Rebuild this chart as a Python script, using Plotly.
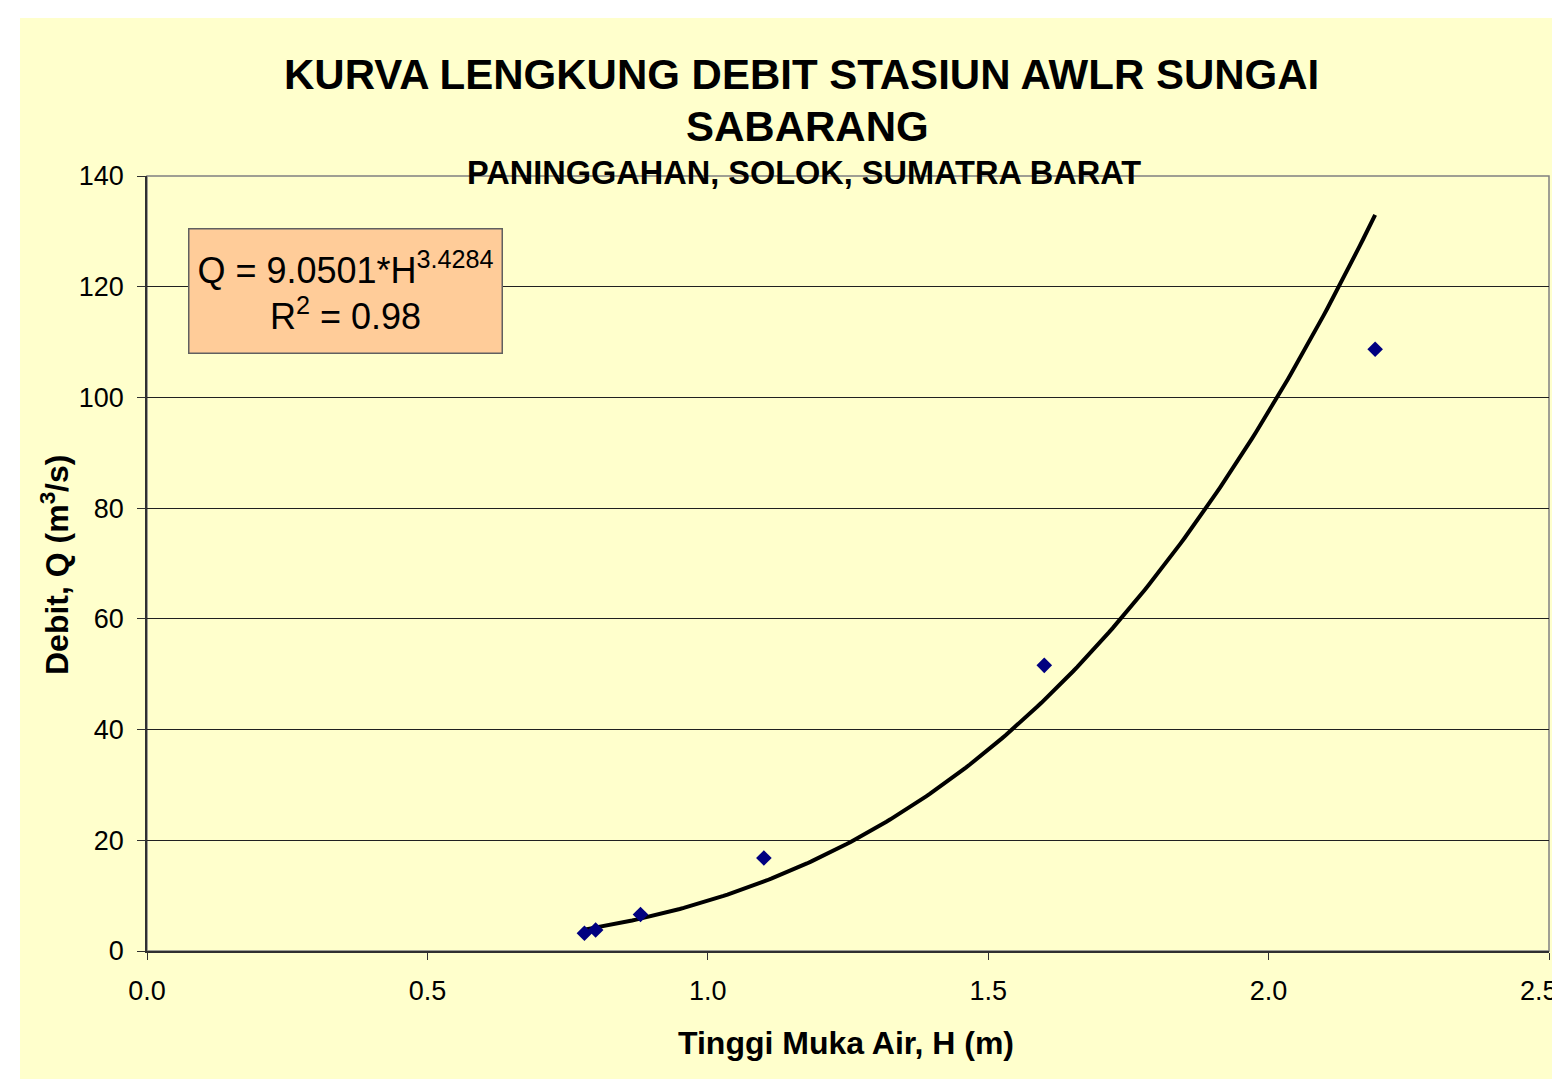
import numpy as np
import plotly.graph_objects as go

# ---- data ----
tinggi_h = [0.78, 0.80, 0.88, 1.10, 1.60, 2.19]          # H (m)
debit_q = [3.2, 3.8, 6.6, 16.8, 51.6, 108.7]            # Q (m3/s)
coef_a = 9.0501                                         # trendline Q = a*H^b
coef_b = 3.4284
r_squared = 0.98
x_ticks = [0.0, 0.5, 1.0, 1.5, 2.0, 2.5]
y_ticks = [0, 20, 40, 60, 80, 100, 120, 140]

OFF = 8                       # default body margin of the html page
W, H = 1560 - OFF, 1079 - OFF
# plot area in reference (page) pixels
L, R, T, B = 147, 1549, 176, 951
FONT = "Arial, Liberation Sans, sans-serif"


def px(x):
    return (x - L) / (R - L)


def py(y):
    return (B - y) / (B - T)


h_fit = np.linspace(min(tinggi_h), max(tinggi_h), 200)
q_fit = coef_a * h_fit ** coef_b

fig = go.Figure()
fig.add_trace(go.Scatter(
    x=h_fit, y=q_fit, mode="lines",
    line=dict(color="black", width=4), hoverinfo="skip", showlegend=False))
fig.add_trace(go.Scatter(
    x=tinggi_h, y=debit_q, mode="markers",
    marker=dict(symbol="diamond", size=12, color="#000080"),
    showlegend=False))

shapes = [
    dict(type="rect", xref="paper", yref="paper", x0=px(20), x1=px(1575),
         y0=py(1090), y1=py(18), fillcolor="#FFFFCC", line=dict(width=0),
         layer="below"),
    dict(type="rect", xref="paper", yref="paper", x0=0, x1=1, y0=0, y1=1,
         line=dict(color="#808080", width=1.5), layer="below"),
]

# the last x tick label sits at the right edge of the page; it is drawn as an
# annotation anchored to the edge so that it does not overflow the page
last_tick = x_ticks[-1]
tick_text = [f"{v:.1f}" for v in x_ticks[:-1]] + [""]

annotations = [
    dict(text="<b>KURVA LENGKUNG DEBIT STASIUN AWLR SUNGAI</b>", x=px(801), y=py(75),
         xref="paper", yref="paper", showarrow=False, xanchor="center", yanchor="middle",
         font=dict(family=FONT, size=42, color="black")),
    dict(text="<b>SABARANG</b>", x=px(807), y=py(126),
         xref="paper", yref="paper", showarrow=False, xanchor="center", yanchor="middle",
         font=dict(family=FONT, size=42, color="black")),
    dict(text="<b>PANINGGAHAN, SOLOK, SUMATRA BARAT</b>", x=px(804), y=py(173),
         xref="paper", yref="paper", showarrow=False, xanchor="center", yanchor="middle",
         font=dict(family=FONT, size=32.5, color="black")),
    dict(text=f"Q = {coef_a:.4f}*H<sup>{coef_b:.4f}</sup><br>R<sup>2</sup> = {r_squared:.2f}",
         x=px(345), y=py(290.5), xref="paper", yref="paper", showarrow=False,
         xanchor="center", yanchor="middle", align="center",
         font=dict(family=FONT, size=36, color="black"),
         bgcolor="#FFCC99", bordercolor="#606060", borderwidth=1.5,
         width=310, height=121),
    dict(text="<b>Tinggi Muka Air, H (m)</b>", x=px(846), y=py(1043),
         xref="paper", yref="paper", showarrow=False, xanchor="center", yanchor="middle",
         font=dict(family=FONT, size=32, color="black")),
    dict(text="<b>Debit, Q (m<sup>3</sup>/s)</b>", x=px(55), y=py(565), textangle=-90,
         xref="paper", yref="paper", showarrow=False, xanchor="center", yanchor="middle",
         font=dict(family=FONT, size=32, color="black")),
    dict(text=f"{last_tick:.1f}", x=px(1559), y=py(991), xref="paper", yref="paper",
         showarrow=False, xanchor="right", yanchor="middle", borderpad=0,
         font=dict(family=FONT, size=27, color="black")),
]

fig.update_layout(
    width=W, height=H,
    margin=dict(l=L - OFF, r=W - (R - OFF), t=T - OFF, b=H - (B - OFF), pad=0),
    paper_bgcolor="white", plot_bgcolor="rgba(0,0,0,0)",
    shapes=shapes, annotations=annotations,
    font=dict(family=FONT, size=27, color="black"),
    xaxis=dict(range=[0, 2.5], tickvals=x_ticks, ticktext=tick_text,
               showgrid=False, zeroline=False, showline=True, linecolor="#303030",
               linewidth=1.5, ticks="outside", ticklen=7, tickcolor="#303030",
               ticklabelstandoff=8,
               tickfont=dict(family=FONT, size=27, color="black")),
    yaxis=dict(range=[0, 140], tickvals=y_ticks, showgrid=True, gridcolor="#202020",
               gridwidth=1, zeroline=False, showline=True, linecolor="#303030",
               linewidth=1.5, ticks="outside", ticklen=8, tickcolor="#303030",
               ticklabelstandoff=8,
               tickfont=dict(family=FONT, size=27, color="black")),
)

fig.write_html("out.html")
